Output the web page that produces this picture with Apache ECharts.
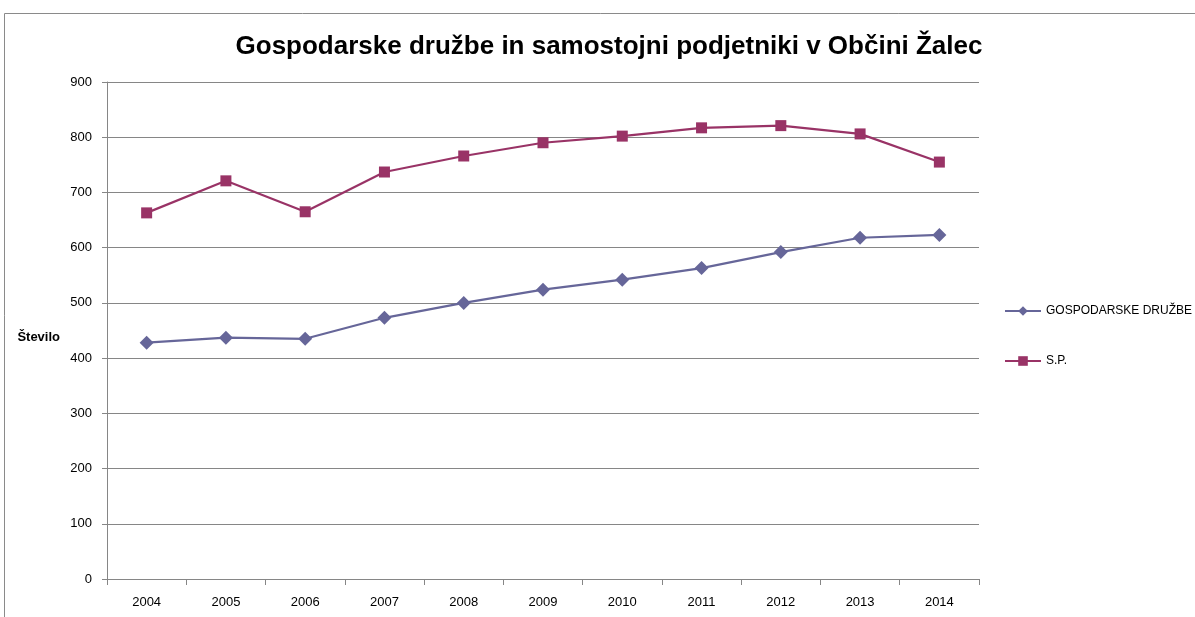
<!DOCTYPE html>
<html>
<head>
<meta charset="utf-8">
<script src="https://cdn.jsdelivr.net/npm/echarts@6/dist/echarts.min.js"></script>
<style>
  html, body { margin: 0; padding: 0; background: #fff; }
  #main { width: 1195px; height: 617px; }
</style>
</head>
<body>
<div id="main"></div>
<script>
var years = ['2004', '2005', '2006', '2007', '2008', '2009', '2010', '2011', '2012', '2013', '2014'];
var druzbe = [428, 437, 435, 473, 500, 524, 542, 563, 592, 618, 623];
var sp = [663, 721, 665, 737, 766, 790, 802, 817, 821, 806, 755];

var myChart = echarts.init(document.getElementById('main'), null, {
  width: 1195,
  height: 617,
});

let option = {
  animation: false,
  backgroundColor: '#fff',
  title: {
    text: 'Gospodarske družbe in samostojni podjetniki v Občini Žalec',
    left: 604,
    textAlign: 'center',
    top: 29,
    textStyle: {
      fontFamily: 'Liberation Sans',
      fontWeight: 'bold',
      fontSize: 26,
      color: '#000'
    }
  },
  graphic: [
    {
      type: 'rect',
      shape: { x: 4.5, y: 13.5, width: 1400, height: 800 },
      style: { fill: 'none', stroke: '#8a8a8a', lineWidth: 1 },
      silent: true
    }
  ],
  legend: {
    orient: 'vertical',
    left: 1004,
    top: 305,
    padding: 0,
    itemGap: 38,
    itemWidth: 36,
    itemHeight: 12,
    textStyle: {
      fontFamily: 'Liberation Sans',
      fontSize: 12,
      color: '#000'
    },
    data: ['GOSPODARSKE DRUŽBE', 'S.P.']
  },
  grid: {
    left: 107,
    right: 1195 - 979,
    top: 82,
    bottom: 617 - 579
  },
  xAxis: {
    type: 'category',
    data: years,
    boundaryGap: true,
    axisLine: { lineStyle: { color: '#868686', width: 1 } },
    axisTick: { show: true, length: 6, alignWithLabel: false, lineStyle: { color: '#868686' } },
    axisLabel: {
      margin: 17,
      color: '#000',
      fontFamily: 'Liberation Sans',
      fontSize: 13
    },
    splitLine: { show: false }
  },
  yAxis: {
    type: 'value',
    min: 0,
    max: 900,
    interval: 100,
    name: 'Število',
    nameLocation: 'middle',
    nameRotate: 0,
    nameGap: 47,
    nameTextStyle: {
      fontFamily: 'Liberation Sans',
      fontWeight: 'bold',
      fontSize: 13,
      color: '#000',
      verticalAlign: 'top'
    },
    axisLine: { show: true, lineStyle: { color: '#868686', width: 1 } },
    axisTick: { show: true, length: 5, lineStyle: { color: '#868686' } },
    axisLabel: {
      margin: 15,
      color: '#000',
      fontFamily: 'Liberation Sans',
      fontSize: 13
    },
    splitLine: { show: true, lineStyle: { color: '#868686', width: 1 } }
  },
  series: [
    {
      name: 'GOSPODARSKE DRUŽBE',
      type: 'line',
      data: druzbe,
      color: '#666699',
      symbol: 'diamond',
      symbolSize: 14,
      lineStyle: { width: 2.2, color: '#666699' },
      itemStyle: { color: '#666699' }
    },
    {
      name: 'S.P.',
      type: 'line',
      data: sp,
      color: '#993366',
      symbol: 'rect',
      symbolSize: 11,
      lineStyle: { width: 2.2, color: '#993366' },
      itemStyle: { color: '#993366' }
    }
  ]
};

myChart.setOption(option);
</script>
</body>
</html>
